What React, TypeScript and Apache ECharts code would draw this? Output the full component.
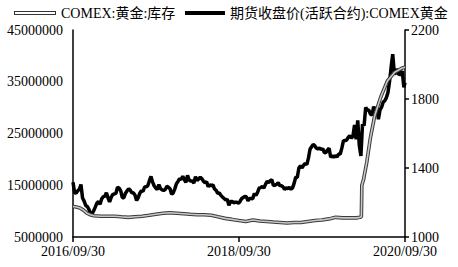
import React, { useEffect, useRef } from 'react';
import * as echarts from 'echarts';

const FONT = 'Liberation Serif, Noto Sans CJK SC, serif';

const INV_NAME = 'COMEX:黄金:库存';
const GOLD_NAME = '期货收盘价(活跃合约):COMEX黄金';

const xTickLabels = ['2016-09-30', '2018-09-30', '2020-09-30'];
const leftTicks = [5000000, 15000000, 25000000, 35000000, 45000000];
const rightTicks = [1000, 1400, 1800, 2200];

// weekly gold closes (Fridays), starting 2016-09-30
const gold2016 = [1317, 1257, 1255, 1268, 1277, 1304, 1226, 1208, 1183, 1177, 1160, 1134, 1134, 1152];
const gold2017 = [
  1173, 1197, 1205, 1190,
  1220, 1234, 1236, 1257,
  1227, 1203, 1230, 1247, 1249,
  1254, 1288, 1284, 1268,
  1228, 1228, 1254, 1268,
  1280, 1271, 1256, 1256, 1242,
  1212, 1228, 1254, 1268,
  1264, 1290, 1291, 1297,
  1325, 1351, 1320, 1297, 1284,
  1275, 1304, 1280, 1273,
  1270, 1275, 1294, 1288,
  1280, 1248, 1256, 1279, 1309,
];
const gold2018 = [
  1322, 1338, 1333, 1352,
  1333, 1316, 1357, 1330,
  1324, 1324, 1313, 1349, 1327,
  1336, 1347, 1338, 1323,
  1315, 1320, 1291, 1303,
  1297, 1302, 1278, 1270, 1253,
  1255, 1241, 1231, 1223,
  1214, 1219, 1184, 1206, 1206,
  1199, 1201, 1201, 1196,
  1206, 1222, 1229, 1235,
  1233, 1210, 1223, 1223, 1222,
  1252, 1241, 1258, 1283,
];
const gold2019 = [
  1287, 1292, 1284, 1305,
  1322, 1316, 1326, 1332,
  1298, 1301, 1305, 1315, 1298,
  1297, 1291, 1276, 1285,
  1281, 1287, 1277, 1285, 1311,
  1346, 1345, 1400, 1413,
  1400, 1416, 1427, 1420,
  1457, 1509, 1523, 1537, 1529,
  1515, 1511, 1515, 1507,
  1512, 1489, 1490, 1505,
  1514, 1462, 1471, 1462, 1472,
  1465, 1481, 1481, 1515,
];
const gold2020 = [
  1557, 1560, 1561, 1577, 1587,
  1573, 1585, 1649, 1566,
  1676, 1530, 1470, 1654,
  1646, 1752, 1736, 1736,
  1713, 1706, 1756, 1735, 1751,
  1683, 1737, 1753, 1782,
  1790, 1808, 1837, 1902, 1985,
  2060, 1950, 1947, 1975,
  1938, 1948, 1962, 1867,
];
const goldLastDate = '2020-09-30';
const goldLastValue = 1895;

const invDates = [
  '2016-09-30', '2016-10-15', '2016-10-31', '2016-11-15', '2016-11-30', '2016-12-15', '2016-12-31',
  '2017-01-31', '2017-02-28', '2017-03-31', '2017-04-30', '2017-05-31', '2017-06-30', '2017-07-31',
  '2017-08-31', '2017-09-30', '2017-10-31', '2017-11-30', '2017-12-31', '2018-01-31', '2018-02-28',
  '2018-03-31', '2018-04-30', '2018-05-31', '2018-06-30', '2018-07-31', '2018-08-31', '2018-09-30',
  '2018-10-31', '2018-11-30', '2018-12-31', '2019-01-31', '2019-02-28', '2019-03-31', '2019-04-30',
  '2019-05-31', '2019-06-30', '2019-07-31', '2019-08-31', '2019-09-30', '2019-10-31', '2019-11-30',
  '2019-12-31', '2020-01-31', '2020-02-29', '2020-03-15', '2020-03-22', '2020-03-24', '2020-03-31',
  '2020-04-15', '2020-04-30', '2020-05-20', '2020-06-15', '2020-07-15', '2020-08-15', '2020-09-15',
  '2020-09-30',
];
const invValues = [
  10900000, 10800000, 10600000, 10200000, 9600000, 9300000, 9100000,
  9000000, 9000000, 9000000, 8900000, 8800000, 8900000, 9000000,
  9200000, 9400000, 9600000, 9700000, 9600000, 9500000, 9400000,
  9300000, 9300000, 9200000, 8900000, 8600000, 8400000, 8200000,
  8000000, 8300000, 8100000, 8000000, 7900000, 7800000, 7700000,
  7800000, 7800000, 8000000, 8200000, 8300000, 8500000, 8800000,
  8700000, 8700000, 8700000, 8800000, 8900000, 15000000, 16000000,
  19500000, 24000000, 28500000, 32000000, 35200000, 36800000, 37600000,
  37800000,
];

function ts(s: string): number {
  const [y, m, d] = s.split('-').map(Number);
  return new Date(y, m - 1, d).getTime();
}

function pad(n: number) {
  return n < 10 ? '0' + n : '' + n;
}

function buildGold(): [number, number][] {
  const all = [...gold2016, ...gold2017, ...gold2018, ...gold2019, ...gold2020];
  const out: [number, number][] = [];
  all.forEach((v, i) => {
    const d = new Date(2016, 8, 30);
    d.setDate(d.getDate() + 7 * i);
    out.push([d.getTime(), v]);
  });
  out.push([ts(goldLastDate), goldLastValue]);
  return out;
}

const legendText = { fontSize: 14, fontFamily: FONT, color: '#000' };

export default function App() {
  const ref = useRef<HTMLDivElement>(null);
  useEffect(() => {
    if (!ref.current) return;
    const chart = echarts.init(ref.current, undefined, { renderer: 'svg' });
    const goldData = buildGold();
    const invData = invDates.map((d, i) => [ts(d), invValues[i]]);
    const xTicks = xTickLabels.map(ts);
    chart.setOption({
      animation: false,
      backgroundColor: '#fff',
      textStyle: { fontFamily: FONT },
      grid: { left: 73, right: 53, top: 30, bottom: 30, containLabel: false },
      legend: [
        {
          top: 6,
          left: 14,
          padding: 0,
          itemWidth: 42,
          itemHeight: 4,
          textStyle: legendText,
          data: [
            {
              name: INV_NAME,
              icon: 'path://M0,0H42V4H0Z M1,1V3H41V1Z',
              itemStyle: { color: '#333' },
            },
          ],
        },
        {
          top: 6,
          left: 185,
          padding: 0,
          itemWidth: 40,
          itemHeight: 4,
          textStyle: legendText,
          data: [{ name: GOLD_NAME, icon: 'rect', itemStyle: { color: '#000' } }],
        },
      ],
      xAxis: {
        type: 'value',
        min: ts('2016-09-30'),
        max: ts('2020-09-30'),
        axisLine: { show: true, lineStyle: { color: '#000', width: 1.5 } },
        axisTick: { show: true, length: 5, lineStyle: { color: '#000', width: 1.5 }, customValues: xTicks },
        axisLabel: {
          customValues: xTicks,
          fontSize: 14,
          lineHeight: 14,
          fontFamily: FONT,
          color: '#000',
          margin: 7,
          hideOverlap: false,
          formatter: (v: number) => {
            const d = new Date(v);
            return d.getFullYear() + '/' + pad(d.getMonth() + 1) + '/' + pad(d.getDate());
          },
        },
        splitLine: { show: false },
      },
      yAxis: [
        {
          type: 'value',
          min: 5000000,
          max: 45000000,
          position: 'left',
          axisLine: { show: true, lineStyle: { color: '#000', width: 1.5 } },
          axisTick: { show: false },
          axisLabel: {
            customValues: leftTicks,
            fontSize: 14,
            lineHeight: 12,
            fontFamily: FONT,
            color: '#000',
            margin: 10,
            formatter: (v: number) => String(v),
          },
          splitLine: { show: false },
        },
        {
          type: 'value',
          min: 1000,
          max: 2200,
          position: 'right',
          axisLine: { show: true, lineStyle: { color: '#000', width: 1.5 } },
          axisTick: { show: true, length: 4, customValues: rightTicks, lineStyle: { color: '#000', width: 1.5 } },
          axisLabel: {
            customValues: rightTicks,
            fontSize: 14,
            lineHeight: 12,
            fontFamily: FONT,
            color: '#000',
            margin: 6,
            formatter: (v: number) => String(v),
          },
          splitLine: { show: false },
        },
      ],
      series: [
        {
          name: GOLD_NAME,
          type: 'line',
          yAxisIndex: 1,
          data: goldData,
          showSymbol: false,
          symbol: 'none',
          lineStyle: { color: '#000', width: 3.5 },
          itemStyle: { color: '#000' },
          z: 2,
        },
        {
          name: INV_NAME,
          type: 'line',
          yAxisIndex: 0,
          data: invData,
          symbol: 'none',
          lineStyle: { color: '#3a3a3a', width: 3.6 },
          itemStyle: { color: '#333' },
          z: 3,
        },
        {
          name: INV_NAME,
          type: 'line',
          yAxisIndex: 0,
          data: invData,
          symbol: 'none',
          lineStyle: { color: '#c8c8c8', width: 1.6 },
          itemStyle: { color: '#333' },
          z: 4,
        },
      ],
    });
    return () => chart.dispose();
  }, []);
  return <div ref={ref} style={{ position: 'fixed', left: 0, top: 0, width: 458, height: 267 }} />;
}
